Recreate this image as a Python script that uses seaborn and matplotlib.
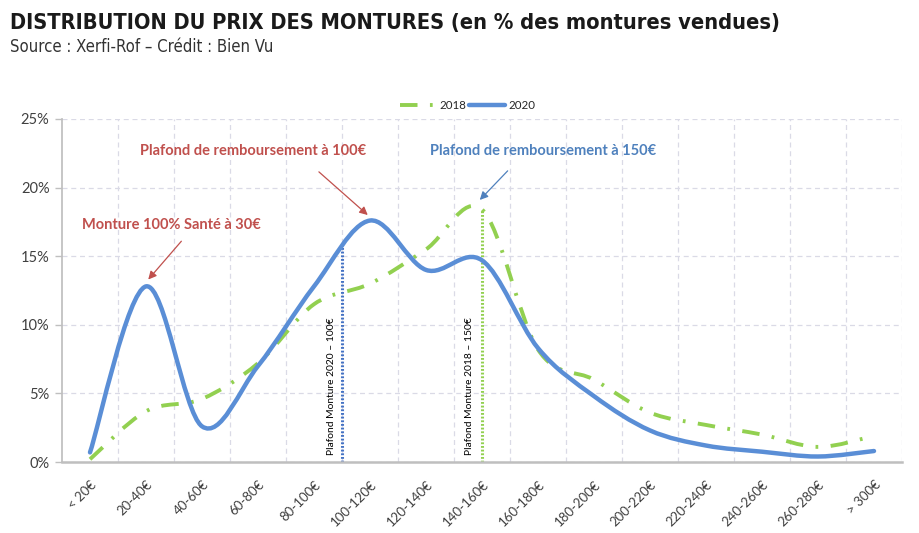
import numpy as np
import pandas as pd
import matplotlib
matplotlib.use("Agg")
import matplotlib.pyplot as plt
import seaborn as sns
from matplotlib.path import Path
from matplotlib.patheffects import AbstractPathEffect
from matplotlib.lines import Line2D

# price brackets and share of frames sold (%)
categories = ["< 20€", "20-40€", "40-60€", "60-80€", "80-100€", "100-120€", "120-140€",
              "140-160€", "160-180€", "180-200€", "200-220€", "220-240€", "240-260€",
              "260-280€", "> 300€"]
share_2018 = [0.2, 3.7, 4.6, 7.2, 11.5, 13.0, 15.5, 18.4, 8.2, 6.0, 3.6, 2.7, 2.0, 1.1, 1.9]
share_2020 = [0.7, 12.8, 2.6, 7.0, 12.8, 17.6, 14.0, 14.7, 8.3, 4.8, 2.3, 1.2, 0.75, 0.4, 0.8]

# reimbursement caps (position on the bracket axis, height of the marker line)
cap_2020_pos, cap_2020_top = 4.5, 16.0
cap_2018_pos, cap_2018_top = 7, 18.4

BLUE = "#5A8ED6"
GREEN = "#92D050"
RED = "#C0504D"
BLUE_TXT = "#4F81BD"


class Smooth(AbstractPathEffect):
    # excel-like "smoothed line": turn the polyline into catmull-rom bezier segments
    def draw_path(self, renderer, gc, tpath, affine, rgbFace=None):
        v = tpath.vertices
        if len(v) > 2:
            p = np.vstack([v[0], v, v[-1]])
            verts = [v[0]]
            for i in range(1, len(p) - 2):
                verts += [p[i] + (p[i + 1] - p[i - 1]) / 6,
                          p[i + 1] - (p[i + 2] - p[i]) / 6,
                          p[i + 1]]
            tpath = Path(verts, [Path.MOVETO] + [Path.CURVE4] * (len(verts) - 1))
        renderer.draw_path(gc, tpath, affine, rgbFace)


sns.set_theme(style="white")
plt.rcParams["font.family"] = ["Lato", "DejaVu Sans"]

df = pd.DataFrame({"tranche": categories, "2018": share_2018, "2020": share_2020})

fig = plt.figure(figsize=(9.19, 5.33), dpi=100)
ax = fig.add_axes([62 / 919, 1 - 462 / 533, 840 / 919, 343 / 533])

sns.lineplot(data=df, x="tranche", y="2018", sort=False, ax=ax, color=GREEN, lw=2.8,
             linestyle=(0, (4.5, 3.2, 0.7, 3.2)), path_effects=[Smooth()])
sns.lineplot(data=df, x="tranche", y="2020", sort=False, ax=ax, color=BLUE, lw=3.2,
             solid_capstyle="round", path_effects=[Smooth()])

ax.vlines(cap_2020_pos, 0, cap_2020_top, color="#4472C4", lw=2.2, linestyle=(0, (0.6, 0.6)), zorder=1)
ax.vlines(cap_2018_pos, 0, cap_2018_top, color=GREEN, lw=2.2, linestyle=(0, (0.6, 0.6)), zorder=1)

ax.set_xlim(-0.5, 14.5)
ax.set_ylim(0, 25)
ax.set_yticks(range(0, 26, 5))
ax.set_yticklabels([f"{t}%" for t in range(0, 26, 5)], fontsize=10.5, color="#404040")
ax.set_xticks(range(len(categories)))
ax.set_xticklabels(categories, rotation=45, ha="right", rotation_mode="anchor",
                   fontsize=9.5, color="#404040")
ax.set_xticks(np.arange(0.5, 15, 1), minor=True)
ax.tick_params(axis="x", which="both", length=0, pad=12)
ax.tick_params(axis="y", length=5, color="#BFBFBF", width=1, direction="out", left=True, pad=4)
ax.set_xlabel("")
ax.set_ylabel("")

ax.grid(axis="y", which="major", color="#DADAE6", linestyle=(0, (4, 3)), lw=0.9)
ax.grid(axis="x", which="minor", color="#DADAE6", linestyle=(0, (4, 3)), lw=0.9)
ax.set_axisbelow(True)
for s in ["top", "right"]:
    ax.spines[s].set_visible(False)
ax.spines["left"].set_color("#BFBFBF")
ax.spines["bottom"].set_color("#BFBFBF")
ax.spines["bottom"].set_linewidth(1.8)

# annotations
ax.annotate("Monture 100% Santé à 30€", xy=(1.04, 13.3), xytext=(1.46, 17.3),
            ha="center", va="center", color=RED, fontsize=10.5, fontweight="bold",
            arrowprops=dict(arrowstyle="-|>", color=RED, lw=0.9, mutation_scale=12,
                            shrinkA=6, shrinkB=0, relpos=(0.6, 0)))
ax.annotate("Plafond de remboursement à 100€", xy=(4.96, 18.0), xytext=(2.91, 22.7),
            ha="center", va="center", color=RED, fontsize=10.5, fontweight="bold",
            arrowprops=dict(arrowstyle="-|>", color=RED, lw=0.9, mutation_scale=12,
                            shrinkA=12, shrinkB=0, relpos=(0.72, 0)))
ax.annotate("Plafond de remboursement à 150€", xy=(6.96, 19.1), xytext=(8.09, 22.7),
            ha="center", va="center", color=BLUE_TXT, fontsize=10.5, fontweight="bold",
            arrowprops=dict(arrowstyle="-|>", color=BLUE_TXT, lw=0.9, mutation_scale=12,
                            shrinkA=10, shrinkB=0, relpos=(0.4, 0)))

ax.text(cap_2020_pos - 0.19, 0.5, "Plafond Monture 2020 – 100€", rotation=90,
        ha="center", va="bottom", fontsize=7.4, color="#000000")
ax.text(cap_2018_pos - 0.22, 0.5, "Plafond Monture 2018 – 150€", rotation=90,
        ha="center", va="bottom", fontsize=7.4, color="#000000")

handles = [Line2D([], [], color=GREEN, lw=2.8, linestyle=(0, (4.5, 3.2, 0.7, 3.2))),
           Line2D([], [], color=BLUE, lw=3.2)]
ax.legend(handles, ["2018", "2020"], loc="center", bbox_to_anchor=(0.483, 1.04), ncol=2,
          frameon=False, fontsize=8.3, handlelength=3.1, columnspacing=0.2, handletextpad=0.3)

# condensed heading, fitted to the reference width
head_font = dict(family=["DejaVu Sans", "Liberation Sans"], fontstretch="condensed")
title = fig.text(10 / 919, 1 - 23 / 533,
                 "DISTRIBUTION DU PRIX DES MONTURES (en % des montures vendues)",
                 fontweight="bold", fontsize=17.5, color="#1A1A1A", va="center", ha="left",
                 **head_font)
sub = fig.text(10 / 919, 1 - 47 / 533, "Source : Xerfi-Rof – Crédit : Bien Vu",
               fontsize=12, color="#333333", va="center", ha="left", **head_font)
r = fig.canvas.get_renderer()
for t, w in [(title, 772), (sub, 277)]:
    ext = t.get_window_extent(r).width
    if ext > w:
        t.set_fontsize(t.get_fontsize() * w / ext)

fig.savefig("out.png", dpi=100)
